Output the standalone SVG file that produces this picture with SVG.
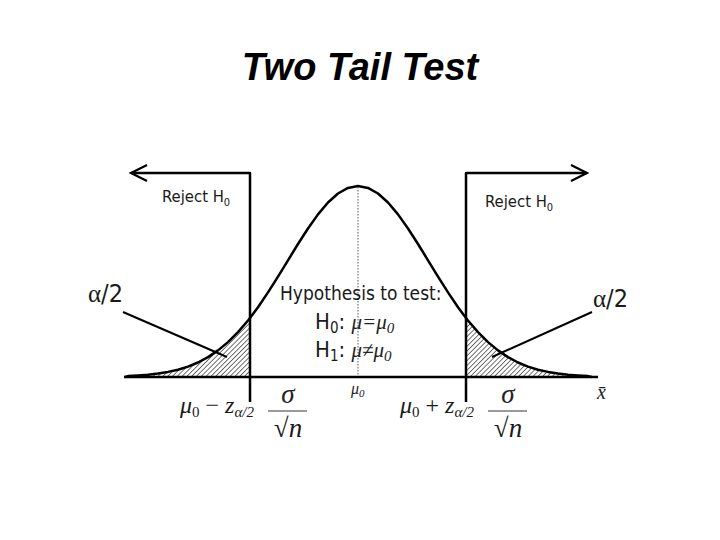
<svg xmlns="http://www.w3.org/2000/svg" width="720" height="540" viewBox="0 0 720 540">
<style>
.ln{fill:none;stroke:#000;stroke-width:2.5;stroke-linejoin:round}
.ld{fill:none;stroke:#000;stroke-width:2}
.sans{font-family:"DejaVu Sans Condensed","DejaVu Sans",sans-serif;fill:#1a1a1a}
.ser{font-family:"Liberation Serif",serif;font-style:italic;fill:#222}
.serU{font-family:"Liberation Serif",serif;fill:#1a1a1a}
</style>
<defs>
<pattern id="hatch" width="3.4" height="3.4" patternUnits="userSpaceOnUse" patternTransform="rotate(45)">
<line x1="0" y1="0" x2="0" y2="3.4" stroke="#000" stroke-width="1.1"/>
</pattern>
<marker id="arr" markerUnits="userSpaceOnUse" markerWidth="20" markerHeight="20" viewBox="-18 -10 20 20" refX="0" refY="0" orient="auto-start-reverse">
<path d="M-16,-8 L0,0 L-16,8" fill="none" stroke="#000" stroke-width="2.2"/>
</marker>
</defs>
<rect width="720" height="540" fill="#fff"/>

<g id="title">
<text x="360" y="80" text-anchor="middle" font-family="Liberation Sans, Arial, sans-serif" font-weight="bold" font-style="italic" font-size="38">Two Tail Test</text>
</g>

<g id="tails">
<path d="M125,377 L128,376.1 L138,375.5 L148,374.7 L158,373.6 L168,371.9 L178,369.7 L188,366.6 L198,362.5 L208,357.1 L218,350.4 L228,342.1 L238,332.1 L248,320.5 L250,317.9 L250,377 Z" fill="url(#hatch)"/>
<path d="M466,317.9 L468,320.5 L478,332.1 L488,342.1 L498,350.4 L508,357.1 L518,362.5 L528,366.6 L538,369.7 L548,371.9 L558,373.6 L568,374.7 L578,375.5 L588,376.1 L592,377 L466,377 Z" fill="url(#hatch)"/>
</g>

<g id="curve">
<path class="ln" d="M125,377 L128,376.1 L138,375.5 L148,374.7 L158,373.6 L168,371.9 L178,369.7 L188,366.6 L198,362.5 L208,357.1 L218,350.4 L228,342.1 L238,332.1 L248,320.5 L250,317.9 L258,307.2 L268,292.4 L278,276.7 L288,260.3 L298,244 L308,228.5 L318,214.4 L328,202.5 L338,193.5 L348,187.9 L358,186 L368,187.9 L378,193.5 L388,202.5 L398,214.4 L408,228.5 L418,244 L428,260.3 L438,276.7 L448,292.4 L458,307.2 L466,317.9 L468,320.5 L478,332.1 L488,342.1 L498,350.4 L508,357.1 L518,362.5 L528,366.6 L538,369.7 L548,371.9 L558,373.6 L568,374.7 L578,375.5 L588,376.1 L592,377"/>
<line x1="358" y1="187" x2="358" y2="377" stroke="#555" stroke-width="1" stroke-dasharray="1.5,1.5"/>
</g>

<g id="connectors">
<line class="ln" x1="124" y1="377" x2="598" y2="377"/>
<polyline class="ln" points="250,402 250,173 131,173" marker-end="url(#arr)"/>
<polyline class="ln" points="466,402 466,173 587,173" marker-end="url(#arr)"/>
<line class="ld" x1="123" y1="312" x2="227" y2="357"/>
<line class="ld" x1="592" y1="312" x2="492" y2="357"/>
</g>

<g id="labels">
<text class="sans" x="162" y="202" font-size="16.5">Reject H<tspan font-size="11" dy="4">0</tspan></text>
<text class="sans" x="485" y="207" font-size="16.5">Reject H<tspan font-size="11" dy="4">0</tspan></text>
<text x="88" y="302" font-size="25"><tspan class="serU">α</tspan><tspan class="sans">/2</tspan></text>
<text x="593" y="307" font-size="25"><tspan class="serU">α</tspan><tspan class="sans">/2</tspan></text>
</g>

<g id="hypothesis">
<text class="sans" x="280" y="300" font-size="19">Hypothesis to test:</text>
<text x="315" y="329" font-size="22"><tspan class="sans">H</tspan><tspan class="sans" font-size="15" dy="4">0</tspan><tspan class="sans" dy="-4">: </tspan><tspan class="ser" font-size="21">μ=μ</tspan><tspan class="ser" font-size="15" dy="4">0</tspan></text>
<text x="315" y="357" font-size="22"><tspan class="sans">H</tspan><tspan class="sans" font-size="15" dy="4">1</tspan><tspan class="sans" dy="-4">: </tspan><tspan class="ser" font-size="21">μ≠μ</tspan><tspan class="ser" font-size="15" dy="4">0</tspan></text>
</g>

<g id="axis-labels">
<text class="ser" x="351" y="394" font-size="16">μ<tspan font-size="11" dy="3">0</tspan></text>
<text class="ser" x="597" y="399" font-size="20">x̄</text>
</g>

<g id="crit-left">
<text class="serU" x="180" y="413" font-size="24"><tspan font-style="italic">μ</tspan><tspan font-size="15" dy="4">0</tspan><tspan dy="-4"> − </tspan><tspan font-style="italic">z</tspan><tspan font-style="italic" font-size="15" dy="4">α/2</tspan></text>
<text class="ser" x="288" y="403" font-size="27" text-anchor="middle">σ</text>
<line x1="268" y1="411" x2="307" y2="411" stroke="#777" stroke-width="1.5"/>
<text class="serU" x="288" y="437" font-size="27" text-anchor="middle">√<tspan font-style="italic">n</tspan></text>
</g>

<g id="crit-right">
<text class="serU" x="400" y="413" font-size="24"><tspan font-style="italic">μ</tspan><tspan font-size="15" dy="4">0</tspan><tspan dy="-4"> + </tspan><tspan font-style="italic">z</tspan><tspan font-style="italic" font-size="15" dy="4">α/2</tspan></text>
<text class="ser" x="508" y="403" font-size="27" text-anchor="middle">σ</text>
<line x1="488" y1="411" x2="527" y2="411" stroke="#777" stroke-width="1.5"/>
<text class="serU" x="508" y="437" font-size="27" text-anchor="middle">√<tspan font-style="italic">n</tspan></text>
</g>
</svg>
